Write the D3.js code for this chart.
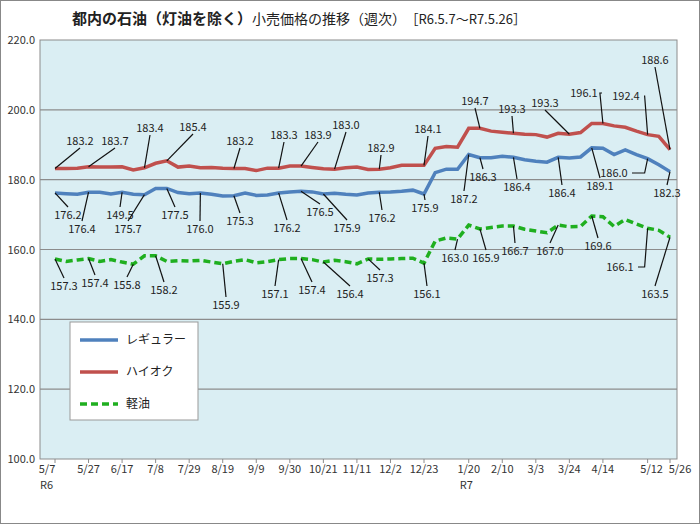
<!DOCTYPE html>
<html><head><meta charset="utf-8">
<script src="https://cdn.jsdelivr.net/npm/d3@7"></script>
<style>body{margin:0;background:#fff;font-family:"Noto Sans CJK JP","Noto Sans",sans-serif}</style>
</head><body><svg id="c" width="700" height="524"></svg>
<script>
// weekly survey, index 0 = 5/7 (R6) ... 55 = 5/26 (R7)
var tickIdx = [0, 3, 6, 9, 12, 15, 18, 21, 24, 27, 30, 33, 37, 40, 43, 46, 49, 53, 55];
var tickLabels = ["5/7", "5/27", "6/17", "7/8", "7/29", "8/19", "9/9", "9/30", "10/21", "11/11", "12/2", "12/23", "1/20", "2/10", "3/3", "3/24", "4/14", "5/12", "5/26"];
var regular = [176.2, 176.0, 175.8, 176.4, 176.4, 175.9, 176.4, 175.8, 175.7, 177.5, 177.5, 176.3, 176.0, 176.2, 175.8, 175.3, 175.4, 176.2, 175.5, 175.6, 176.2, 176.5, 176.7, 176.5, 175.9, 176.1, 175.8, 175.6, 176.2, 176.4, 176.5, 176.7, 177.0, 175.9,
    182.0, 183.0, 183.0, 187.2, 186.3, 186.3, 186.7, 186.4, 185.7, 185.3, 185.0, 186.4, 186.2, 186.5, 189.1, 189.0, 187.2, 188.5, 187.2, 186.0, 184.3, 182.3];
var highoct = [183.2, 183.2, 183.3, 183.7, 183.6, 183.6, 183.7, 182.8, 183.4, 184.7, 185.4, 183.6, 183.9, 183.4, 183.5, 183.3, 183.2, 183.2, 182.6, 183.3, 183.3, 183.9, 183.9, 183.5, 183.1, 183.0, 183.4, 183.6, 182.9, 183.0, 183.4, 184.1, 184.1, 184.1,
    189.0, 189.5, 189.3, 194.7, 194.7, 193.9, 193.6, 193.3, 193.0, 192.9, 192.2, 193.3, 193.0, 193.5, 196.1, 196.1, 195.4, 195.0, 193.9, 192.9, 192.4, 188.6];
var diesel = [157.3, 156.6, 157.0, 157.4, 156.6, 157.1, 156.4, 155.8, 158.2, 158.2, 156.6, 156.8, 156.7, 156.9, 156.4, 155.9, 156.6, 157.1, 156.2, 156.5, 157.1, 157.4, 157.4, 157.1, 156.4, 156.9, 156.5, 155.9, 157.3, 157.2, 157.3, 157.4, 157.5, 156.1,
    162.4, 163.3, 163.0, 167.0, 165.9, 166.3, 166.7, 166.7, 165.8, 165.3, 164.8, 167.0, 166.5, 166.6, 169.6, 169.4, 166.6, 168.6, 167.3, 166.1, 165.5, 163.5];
var yTicks = [100, 120, 140, 160, 180, 200, 220];
var seriesNames = ["レギュラー", "ハイオク", "軽油"];

// callouts: series, index, text, label position, elbow leader?
var callouts = [
    ["h", 0, "183.2", 80, 145], ["h", 3, "183.7", 115, 145], ["h", 8, "183.4", 150, 132], ["h", 10, "185.4", 193, 131],
    ["h", 16, "183.2", 240, 145], ["h", 20, "183.3", 284, 139], ["h", 22, "183.9", 318, 139], ["h", 25, "183.0", 346, 129],
    ["h", 29, "182.9", 381, 152], ["h", 33, "184.1", 428, 133], ["h", 38, "194.7", 475, 105], ["h", 41, "193.3", 512, 113],
    ["h", 46, "193.3", 545, 107], ["h", 49, "196.1", 584, 97, 1], ["h", 53, "192.4", 626, 100, 1], ["h", 55, "188.6", 655, 64],
    ["r", 0, "176.2", 68, 219], ["r", 3, "176.4", 82, 233], ["r", 6, "149.5", 120, 219], ["r", 8, "175.7", 128, 233],
    ["r", 10, "177.5", 175, 219], ["r", 13, "176.0", 200, 233], ["r", 16, "175.3", 240, 225], ["r", 20, "176.2", 287, 232],
    ["r", 22, "176.5", 320, 216], ["r", 24, "175.9", 347, 232], ["r", 29, "176.2", 382, 222], ["r", 33, "175.9", 425, 212],
    ["r", 37, "187.2", 464, 203], ["r", 38, "186.3", 483, 181], ["r", 41, "186.4", 517, 191], ["r", 45, "186.4", 562, 197],
    ["r", 48, "189.1", 600, 190], ["r", 53, "186.0", 614, 177, 1], ["r", 55, "182.3", 667, 197],
    ["d", 0, "157.3", 64, 290], ["d", 3, "157.4", 95, 287], ["d", 7, "155.8", 127, 289], ["d", 9, "158.2", 164, 294],
    ["d", 15, "155.9", 226, 309], ["d", 20, "157.1", 275, 298], ["d", 22, "157.4", 312, 294], ["d", 24, "156.4", 350, 298],
    ["d", 28, "157.3", 380, 282], ["d", 33, "156.1", 427, 298], ["d", 36, "163.0", 455, 262], ["d", 38, "165.9", 486, 262],
    ["d", 41, "166.7", 515, 255], ["d", 45, "167.0", 550, 255], ["d", 48, "169.6", 598, 250], ["d", 53, "166.1", 620, 271, 1],
    ["d", 55, "163.5", 655, 298]
];

var svg = d3.select("#c");
var m = {l: 40, r: 677, t: 40, b: 459};
var x = d3.scaleLinear().domain([0, 55]).range([55, 670]);
var y = d3.scaleLinear().domain([100, 220]).range([m.b, m.t]);

svg.append("rect").attr("x", 0.5).attr("y", 0.5).attr("width", 699).attr("height", 523)
    .attr("fill", "#fff").attr("stroke", "#888");

// title
var title = svg.append("text").attr("x", 72).attr("y", 24).attr("font-size", 15).attr("fill", "#222");
title.append("tspan").attr("font-weight", "bold").text("都内の石油（灯油を除く）");
title.append("tspan").attr("font-size", 14).text("小売価格の推移（週次）");
title.append("tspan").attr("font-size", 13).attr("dx", 6).text("［R6.5.7～R7.5.26］");

svg.append("rect").attr("x", m.l).attr("y", m.t).attr("width", m.r - m.l).attr("height", m.b - m.t)
    .attr("fill", "#DAEEF3").attr("stroke", "#8c8c8c");

svg.selectAll("line.grid").data(yTicks.slice(1, -1)).enter().append("line")
    .attr("x1", m.l).attr("x2", m.r).attr("y1", d => y(d)).attr("y2", d => y(d))
    .attr("stroke", "#8c8c8c").attr("stroke-width", 1.2);

svg.selectAll("text.yl").data(yTicks).enter().append("text")
    .attr("x", 35).attr("y", d => y(d) + 4).attr("text-anchor", "end")
    .attr("font-size", 11).attr("fill", "#333").text(d => d.toFixed(1));

// x ticks
svg.selectAll("line.xt").data(tickIdx).enter().append("line")
    .attr("x1", d => x(d)).attr("x2", d => x(d)).attr("y1", m.b).attr("y2", m.b + 4).attr("stroke", "#8c8c8c");
svg.selectAll("text.xl").data(tickIdx).enter().append("text")
    .attr("x", (d, i) => x(d) + (i == 0 ? -8 : i == tickIdx.length - 1 ? 10 : i == tickIdx.length - 2 ? 4 : 0))
    .attr("y", 473).attr("text-anchor", "middle")
    .attr("font-size", 11).attr("fill", "#333").text((d, i) => tickLabels[i]);
svg.append("text").attr("x", 40).attr("y", 489).attr("font-size", 11).attr("fill", "#333").text("R6");
svg.append("text").attr("x", x(37) - 9).attr("y", 489).attr("font-size", 11).attr("fill", "#333").text("R7");

var line = d3.line().x((d, i) => x(i)).y(d => y(d));
var styles = {
    r: {data: regular, color: "#4F81BD", dash: null},
    h: {data: highoct, color: "#C0504D", dash: null},
    d: {data: diesel, color: "#1FAF1F", dash: "7,4"}
};
["h", "r", "d"].forEach(function (k) {
    svg.append("path").datum(styles[k].data).attr("d", line).attr("fill", "none")
        .attr("stroke", styles[k].color).attr("stroke-width", 3.5)
        .attr("stroke-dasharray", styles[k].dash);
});

// callouts
callouts.forEach(function (c) {
    var px = x(c[1]), py = y(styles[c[0]].data[c[1]]);
    var tx = c[3], ty = c[4];
    if (c[5]) {
        var ex = tx + 18;
        svg.append("polyline").attr("points", [[ex, ty - 4], [px - 3, ty - 4], [px, py]].join(" "))
            .attr("fill", "none").attr("stroke", "#111").attr("stroke-width", 1.2);
    } else {
        var sy = py < ty ? ty - 12 : ty + 3;
        svg.append("line").attr("x1", tx).attr("y1", sy).attr("x2", px).attr("y2", py)
            .attr("stroke", "#111").attr("stroke-width", 1.2);
    }
    svg.append("text").attr("x", tx).attr("y", ty).attr("text-anchor", "middle")
        .attr("font-size", 11).attr("fill", "#222").text(c[2]);
});

// legend
var lg = svg.append("g").attr("transform", "translate(70,322)");
lg.append("rect").attr("width", 128).attr("height", 98).attr("fill", "#fff").attr("stroke", "#999");
["r", "h", "d"].forEach(function (k, i) {
    var yy = 18 + i * 32;
    lg.append("line").attr("x1", 10).attr("x2", 48).attr("y1", yy).attr("y2", yy)
        .attr("stroke", styles[k].color).attr("stroke-width", 3.5).attr("stroke-dasharray", styles[k].dash);
    lg.append("text").attr("x", 56).attr("y", yy + 4).attr("font-size", 12).attr("fill", "#222").text(seriesNames[i]);
});
</script></body></html>
